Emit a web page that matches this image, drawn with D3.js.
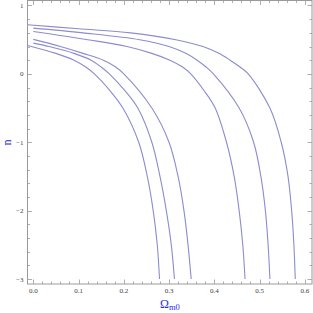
<!DOCTYPE html>
<html>
<head>
<meta charset="utf-8">
<script src="https://cdn.jsdelivr.net/npm/d3@7"></script>
<style>
  body { margin: 0; background: #fff; }
  svg { display: block; }
  .labels { opacity: 0.99; }
</style>
</head>
<body>
<svg></svg>
<script>
// curves: [Omega_m0, n]
var curve1 = [[-0.0128, 0.718], [0.1, 0.66], [0.215, 0.6], [0.315, 0.5], [0.375, 0.4], [0.41, 0.3], [0.435, 0.2], [0.457, 0.1], [0.475, 0], [0.523, -0.5], [0.548, -1], [0.563, -1.5], [0.571, -2], [0.576, -2.5], [0.579, -3]];
var curve2 = [[0, 0.669], [0.11, 0.6], [0.235, 0.5], [0.3, 0.4], [0.337, 0.3], [0.362, 0.2], [0.382, 0.1], [0.398, 0], [0.455, -0.5], [0.487, -1], [0.503, -1.5], [0.513, -2], [0.519, -2.5], [0.523, -3]];
var curve3 = [[0, 0.62], [0.12, 0.5], [0.207, 0.4], [0.262, 0.3], [0.302, 0.2], [0.33, 0.1], [0.348, 0], [0.378, -0.25], [0.402, -0.5], [0.427, -1], [0.444, -1.5], [0.455, -2], [0.463, -2.5], [0.468, -3]];
var curve4 = [[0, 0.504], [0.06, 0.4], [0.11, 0.3], [0.155, 0.2], [0.182, 0.1], [0.2, 0], [0.262, -0.5], [0.3, -1], [0.32, -1.5], [0.333, -2], [0.342, -2.5], [0.349, -3]];
var curve5 = [[0, 0.45], [0.035, 0.4], [0.09, 0.3], [0.128, 0.2], [0.15, 0.1], [0.168, 0], [0.203, -0.25], [0.231, -0.5], [0.262, -1], [0.28, -1.5], [0.294, -2], [0.305, -2.5], [0.312, -3]];
var curve6 = [[-0.0128, 0.416], [0.05, 0.3], [0.09, 0.2], [0.116, 0.1], [0.135, 0], [0.17, -0.25], [0.198, -0.5], [0.233, -1], [0.252, -1.5], [0.265, -2], [0.274, -2.5], [0.279, -3]];
var curves = [curve1, curve2, curve3, curve4, curve5, curve6];

var xTicks = [0.0, 0.1, 0.2, 0.3, 0.4, 0.5, 0.6];
var yTicks = [-3, -2, -1, 0, 1];

var screen = { width: 313, height: 313 };
var frame = { left: 27.5, right: 312, top: 0.5, bottom: 284 };

var xScale = d3.scaleLinear()
               .domain([-0.0128, 0.616])
               .range([frame.left, frame.right]);

var yScale = d3.scaleLinear()
               .domain([-3.073, 1.073])
               .range([frame.bottom, frame.top]);

var svg = d3.select("svg")
            .attr("width", screen.width)
            .attr("height", screen.height);

var axisColor = "#9a9a9a";

// minor ticks
var xMinor = d3.range(0, 0.61, 0.02);
var yMinor = d3.range(-3, 1.01, 0.2);

// frame
svg.append("rect")
   .attr("x", frame.left)
   .attr("y", frame.top)
   .attr("width", frame.right - frame.left)
   .attr("height", frame.bottom - frame.top)
   .attr("fill", "none")
   .attr("stroke", axisColor)
   .attr("stroke-width", 1);

var ticks = svg.append("g").attr("stroke", axisColor).attr("stroke-width", 0.8);

//x ticks bottom and top
xMinor.forEach(function(v) {
  var major = xTicks.some(function(t) { return Math.abs(t - v) < 1e-6; });
  var len = major ? 4.5 : 2.5;
  var x = Math.round(xScale(v)) + 0.5;
  ticks.append("line").attr("x1", x).attr("x2", x).attr("y1", frame.bottom).attr("y2", frame.bottom - len);
  ticks.append("line").attr("x1", x).attr("x2", x).attr("y1", frame.top).attr("y2", frame.top + len);
});

//y ticks left and right
yMinor.forEach(function(v) {
  var major = yTicks.some(function(t) { return Math.abs(t - v) < 1e-6; });
  var len = major ? 4.5 : 2.5;
  var y = Math.round(yScale(v)) + 0.5;
  ticks.append("line").attr("y1", y).attr("y2", y).attr("x1", frame.left).attr("x2", frame.left + len);
  ticks.append("line").attr("y1", y).attr("y2", y).attr("x1", frame.right).attr("x2", frame.right - len);
});

//tick labels
svg.append("g").classed("labels", true).selectAll("text")
   .data(xTicks)
   .enter()
   .append("text")
   .attr("x", function(d) { return xScale(d); })
   .attr("y", 292.5)
   .attr("text-anchor", "middle")
   .attr("font-family", "Liberation Serif, serif")
   .attr("font-size", 7)
   .attr("fill", "#3c3c3c")
   .text(function(d) { return d3.format(".1f")(d); });

svg.append("g").classed("labels", true).selectAll("text")
   .data(yTicks)
   .enter()
   .append("text")
   .attr("x", 23.5)
   .attr("y", function(d) { return yScale(d) + 2.5; })
   .attr("text-anchor", "end")
   .attr("font-family", "Liberation Serif, serif")
   .attr("font-size", 7)
   .attr("fill", "#3c3c3c")
   .text(function(d) { return d < 0 ? "\u2212" + Math.abs(d) : d; });

//curves
var line = d3.line()
             .x(function(d) { return xScale(d[0]); })
             .y(function(d) { return yScale(d[1]); })
             .curve(d3.curveCatmullRom.alpha(0.5));

svg.append("g").selectAll("path")
   .data(curves)
   .enter()
   .append("path")
   .attr("d", function(d) { return line(d); })
   .attr("fill", "none")
   .attr("stroke", "#8c8cd0")
   .attr("stroke-width", 1.1);

//axis labels
svg.append("text")
   .attr("transform", "translate(10.5,142.5) rotate(-90)")
   .attr("text-anchor", "middle")
   .attr("font-family", "Liberation Serif, serif")
   .attr("font-size", 12)
   .attr("fill", "#2a2ae6")
   .text("n");

var xl = svg.append("text")
   .attr("x", 160)
   .attr("y", 308)
   .attr("font-family", "Liberation Serif, serif")
   .attr("font-size", 12)
   .attr("fill", "#2a2ae6");
xl.append("tspan").text("\u03A9");
xl.append("tspan").attr("font-size", 8.5).attr("dy", 2).text("m0");
</script>
</body>
</html>
